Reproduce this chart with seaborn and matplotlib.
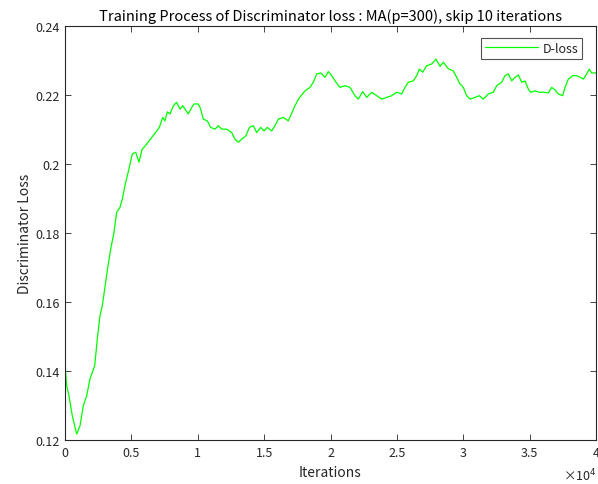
import matplotlib
matplotlib.use("Agg")
import matplotlib.pyplot as plt
import seaborn as sns
import pandas as pd

iterations = [
    0, 130, 300, 550, 880, 1130, 1380, 1635, 1880, 2060, 2235, 2435, 2635, 2810, 2990,
    3240, 3440, 3690, 3890, 4140, 4320, 4570, 4820, 5070, 5325, 5575, 5800, 6100, 6530,
    6855, 7105, 7360, 7530, 7710, 7910, 8160, 8410, 8660, 8865, 9040, 9290, 9545, 9720,
    10040, 10220, 10420, 10720, 10975, 11300, 11550, 11800, 12180, 12560, 12805, 13055,
    13310, 13635, 13885, 14185, 14440, 14740, 14990, 15240, 15570, 15820, 16070, 16445,
    16820, 17080, 17325, 17600, 18080, 18455, 18705, 18960, 19260, 19585, 19835, 20090,
    20340, 20715, 21090, 21470, 21845, 22095, 22425, 22725, 23105, 23480, 23855, 24235,
    24610, 24990, 25365, 25610, 25860, 26240, 26495, 26690, 26945, 27245, 27625, 27950,
    28250, 28500, 28875, 29250, 29505, 29755, 30005, 30260, 30510, 30885, 31210, 31510,
    31890, 32265, 32520, 32895, 33145, 33395, 33650, 33900, 34150, 34405, 34655, 34900,
    35080, 35405, 35730, 36085, 36410, 36660, 36910, 37160, 37490, 37665, 37915, 38245,
    38545, 38845, 39045, 39295, 39495, 39675, 40000,
]
d_loss = [
    0.1420, 0.1357, 0.1328, 0.1270, 0.1217, 0.1241, 0.1300, 0.1328, 0.1377, 0.1396, 0.1415,
    0.1493, 0.1560, 0.1589, 0.1637, 0.1705, 0.1753, 0.1802, 0.1860, 0.1874, 0.1899, 0.1947,
    0.1986, 0.2029, 0.2034, 0.2005, 0.2042, 0.2055, 0.2077, 0.2094, 0.2106, 0.2135, 0.2125,
    0.2151, 0.2145, 0.2169, 0.2179, 0.2159, 0.2169, 0.2159, 0.2145, 0.2164, 0.2174, 0.2174,
    0.2159, 0.2130, 0.2125, 0.2106, 0.2101, 0.2111, 0.2101, 0.2101, 0.2091, 0.2072, 0.2063,
    0.2072, 0.2082, 0.2106, 0.2111, 0.2091, 0.2106, 0.2096, 0.2106, 0.2096, 0.2111, 0.2130,
    0.2135, 0.2125, 0.2148, 0.2169, 0.2189, 0.2212, 0.2222, 0.2237, 0.2261, 0.2264, 0.2251,
    0.2268, 0.2256, 0.2241, 0.2222, 0.2227, 0.2222, 0.2198, 0.2188, 0.2210, 0.2193, 0.2208,
    0.2198, 0.2188, 0.2193, 0.2198, 0.2208, 0.2203, 0.2222, 0.2237, 0.2241, 0.2256, 0.2275,
    0.2266, 0.2285, 0.2290, 0.2304, 0.2283, 0.2295, 0.2276, 0.2270, 0.2251, 0.2232, 0.2222,
    0.2198, 0.2188, 0.2193, 0.2198, 0.2188, 0.2203, 0.2208, 0.2227, 0.2237, 0.2256, 0.2261,
    0.2241, 0.2251, 0.2258, 0.2237, 0.2241, 0.2217, 0.2208, 0.2212, 0.2208, 0.2208, 0.2206,
    0.2222, 0.2215, 0.2203, 0.2198, 0.2222, 0.2246, 0.2256, 0.2256, 0.2251, 0.2246, 0.2261,
    0.2275, 0.2264, 0.2264,
]
x_ticks = [0, 5000, 10000, 15000, 20000, 25000, 30000, 35000, 40000]
x_tick_labels = ["0", "0.5", "1", "1.5", "2", "2.5", "3", "3.5", "4"]
y_ticks = [0.12, 0.14, 0.16, 0.18, 0.20, 0.22, 0.24]
y_tick_labels = ["0.12", "0.14", "0.16", "0.18", "0.2", "0.22", "0.24"]

sns.set_theme(style="white")
plt.rcParams["font.family"] = ["Noto Sans CJK JP", "DejaVu Sans"]
plt.rcParams["axes.unicode_minus"] = False

df = pd.DataFrame({"Iterations": iterations, "D-loss": d_loss})

fig = plt.figure(figsize=(5.98, 4.85), dpi=100)
ax = fig.add_axes([65 / 598, 1 - 441 / 485, 531 / 598, 414 / 485])

sns.lineplot(data=df, x="Iterations", y="D-loss", ax=ax, color=(0, 1, 0),
             linewidth=0.9, label="D-loss")

ax.set_xlim(0, 40000)
ax.set_ylim(0.12, 0.24)
ax.set_xticks(x_ticks)
ax.set_xticklabels(x_tick_labels)
ax.set_yticks(y_ticks)
ax.set_yticklabels(y_tick_labels)

edge = "#262626"
for s in ax.spines.values():
    s.set_color(edge)
    s.set_linewidth(0.8)
    s.set_visible(True)
ax.tick_params(direction="in", length=4, width=0.6, color=edge, labelsize=9,
               labelcolor=edge, top=True, right=True, bottom=True, left=True, pad=4)

ax.set_xlabel("Iterations", fontsize=10, color=edge, labelpad=5)
ax.set_ylabel("Discriminator Loss", fontsize=10, color=edge, labelpad=2)
ax.set_title("Training Process of Discriminator loss : MA(p=300), skip 10 iterations",
             fontsize=10.5, color="black", pad=4)
ax.text(1.0, -0.084, "×10$^{4}$", transform=ax.transAxes, ha="right", va="center",
        fontsize=9, color=edge)

leg = ax.legend(loc="upper right", fontsize=9, frameon=True, fancybox=False,
                edgecolor=edge, handlelength=4.2, borderpad=0.3, borderaxespad=0,
                handletextpad=0.4, bbox_to_anchor=(0.974, 0.971))
leg.get_frame().set_linewidth(0.8)

fig.savefig("out.png", dpi=100)
